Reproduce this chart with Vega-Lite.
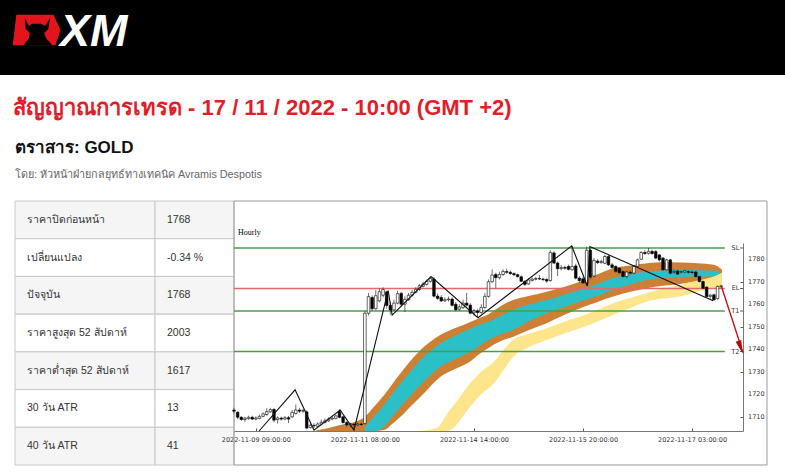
{
  "$schema": "https://vega.github.io/schema/vega-lite/v6.json",
  "padding": 0,
  "background": "white",
  "spacing": 0,
  "bounds": "flush",
  "config": {
    "view": {"stroke": null},
    "font": "Liberation Sans",
    "axis": {"labelOverlap": false, "grid": false, "title": null, "labelFont": "DejaVu Sans", "labelFontSize": 6.5, "labelColor": "#333333", "tickColor": "#555555", "domainColor": "#777777", "tickSize": -3}
  },
  "datasets": {
    "table": [
      {"row": 1, "label": "ราคาปิดก่อนหน้า", "value": "1768"},
      {"row": 2, "label": "เปลี่ยนแปลง", "value": "-0.34 %"},
      {"row": 3, "label": "ปัจจุบัน", "value": "1768"},
      {"row": 4, "label": "ราคาสูงสุด 52 สัปดาห์", "value": "2003"},
      {"row": 5, "label": "ราคาต่ำสุด 52 สัปดาห์", "value": "1617"},
      {"row": 6, "label": "30 วัน ATR", "value": "13"},
      {"row": 7, "label": "40 วัน ATR", "value": "41"}
    ],
    "yticks": [{"v":1710},{"v":1720},{"v":1730},{"v":1740},{"v":1750},{"v":1760},{"v":1770},{"v":1780}],
    "candles": [
      {"i":-6,"o":1713,"h":1714,"l":1711.5,"c":1712.5},{"i":-5,"o":1712,"h":1712.5,"l":1709,"c":1709.8},{"i":-4,"o":1709.8,"h":1710.3,"l":1708.3,"c":1708.8},{"i":-3,"o":1708.8,"h":1710,"l":1707.8,"c":1709.4},{"i":-2,"o":1709.2,"h":1710.5,"l":1708.7,"c":1709.8},{"i":-1,"o":1709.8,"h":1710.5,"l":1708.6,"c":1709},{"i":0,"o":1709,"h":1710.2,"l":1708.5,"c":1709.5},{"i":1,"o":1709.3,"h":1711,"l":1708.9,"c":1710.2},{"i":2,"o":1710.2,"h":1712,"l":1709.8,"c":1711.3},{"i":3,"o":1711,"h":1713.8,"l":1710.5,"c":1712.3},{"i":4,"o":1712.2,"h":1714,"l":1711.8,"c":1713.2},{"i":5,"o":1713.3,"h":1713.8,"l":1707.5,"c":1708.5},{"i":6,"o":1708.8,"h":1710.2,"l":1707,"c":1709.5},{"i":7,"o":1709.4,"h":1710,"l":1708.3,"c":1709},{"i":8,"o":1709,"h":1710.3,"l":1708.5,"c":1709.6},{"i":9,"o":1709.6,"h":1710.4,"l":1707.2,"c":1709},{"i":10,"o":1710,"h":1713,"l":1709.5,"c":1712},{"i":11,"o":1711.5,"h":1715.5,"l":1711,"c":1713},{"i":12,"o":1713,"h":1714,"l":1711.7,"c":1712.5},{"i":13,"o":1712.5,"h":1713.5,"l":1711.8,"c":1712.8},{"i":14,"o":1712.2,"h":1712.8,"l":1704.5,"c":1705},{"i":15,"o":1705.2,"h":1707,"l":1704.8,"c":1706.2},{"i":16,"o":1706.2,"h":1707.2,"l":1705,"c":1706},{"i":17,"o":1705.8,"h":1707.5,"l":1705.3,"c":1706.8},{"i":18,"o":1706.8,"h":1708.8,"l":1706.3,"c":1707.6},{"i":19,"o":1707.5,"h":1709.3,"l":1707,"c":1708.2},{"i":20,"o":1708.2,"h":1709.8,"l":1707.7,"c":1709},{"i":21,"o":1709,"h":1710.2,"l":1708.5,"c":1709.4},{"i":22,"o":1709.3,"h":1711,"l":1708.8,"c":1710.4},{"i":23,"o":1712.4,"h":1713.3,"l":1709.3,"c":1709.8},{"i":24,"o":1710,"h":1710.5,"l":1707,"c":1707.5},{"i":25,"o":1707.5,"h":1708,"l":1705.7,"c":1706.4},{"i":26,"o":1706.5,"h":1707.5,"l":1705.2,"c":1706.9},{"i":27,"o":1706.7,"h":1707.2,"l":1704.2,"c":1706.4},{"i":28,"o":1706.4,"h":1707.3,"l":1705.8,"c":1706.8},{"i":29,"o":1706.8,"h":1707.4,"l":1706,"c":1706.6},
      {"i":30,"o":1707,"h":1757,"l":1706.5,"c":1756},{"i":31,"o":1756,"h":1765,"l":1755,"c":1763.4},{"i":32,"o":1763,"h":1764,"l":1757,"c":1758},{"i":33,"o":1758,"h":1766.3,"l":1757.5,"c":1763.8},{"i":34,"o":1761.5,"h":1767,"l":1760.8,"c":1765.6},{"i":35,"o":1764,"h":1767.5,"l":1763,"c":1766.5},{"i":36,"o":1765.5,"h":1766,"l":1758,"c":1759.5},{"i":37,"o":1759.5,"h":1761,"l":1755.3,"c":1757.5},{"i":38,"o":1757.5,"h":1762,"l":1757,"c":1760.5},{"i":39,"o":1760.5,"h":1766,"l":1760,"c":1764.7},{"i":40,"o":1764.8,"h":1765.5,"l":1759,"c":1760},{"i":41,"o":1760,"h":1763.5,"l":1756.5,"c":1762.2},{"i":42,"o":1762,"h":1765,"l":1761.5,"c":1764},{"i":43,"o":1764,"h":1766.3,"l":1763.3,"c":1765.3},{"i":44,"o":1765.3,"h":1767.6,"l":1764.8,"c":1766.6},{"i":45,"o":1766.6,"h":1769,"l":1766,"c":1768.2},{"i":46,"o":1768,"h":1770,"l":1767.5,"c":1769},{"i":47,"o":1768.8,"h":1771,"l":1768.2,"c":1770.2},{"i":48,"o":1770.2,"h":1772.3,"l":1769.5,"c":1771.5},{"i":49,"o":1771.2,"h":1772,"l":1763,"c":1763.6},{"i":50,"o":1763.6,"h":1764.8,"l":1762,"c":1762.6},{"i":51,"o":1763,"h":1764,"l":1761,"c":1761.5},{"i":52,"o":1761.5,"h":1763,"l":1761,"c":1762},{"i":53,"o":1762,"h":1763.4,"l":1761.2,"c":1762.3},{"i":54,"o":1762.3,"h":1763,"l":1759,"c":1759.5},{"i":55,"o":1760,"h":1761,"l":1757,"c":1757.5},{"i":56,"o":1757.8,"h":1760,"l":1757,"c":1758.8},{"i":57,"o":1758.5,"h":1762,"l":1758,"c":1760.5},{"i":58,"o":1760.5,"h":1765,"l":1759,"c":1759.6},{"i":59,"o":1759.6,"h":1760.5,"l":1755.5,"c":1756},{"i":60,"o":1756.2,"h":1758,"l":1755,"c":1757},{"i":61,"o":1757,"h":1757.8,"l":1754,"c":1756.3},{"i":62,"o":1756.3,"h":1760,"l":1755.8,"c":1758.5},{"i":63,"o":1758.5,"h":1765,"l":1758,"c":1763.5},{"i":64,"o":1763.5,"h":1771,"l":1763,"c":1770},{"i":65,"o":1770,"h":1775.5,"l":1769.5,"c":1773},{"i":66,"o":1773.2,"h":1774,"l":1767,"c":1771.8},{"i":67,"o":1771.8,"h":1774.5,"l":1771,"c":1773.2},{"i":68,"o":1773.2,"h":1775.5,"l":1772.6,"c":1774.6},{"i":69,"o":1774.5,"h":1775.8,"l":1773.5,"c":1774.2},{"i":70,"o":1774.2,"h":1775,"l":1773,"c":1773.6},
      {"i":71,"o":1773.6,"h":1774.2,"l":1772.6,"c":1773.1},{"i":72,"o":1773.1,"h":1773.6,"l":1771.8,"c":1772.3},{"i":73,"o":1772.2,"h":1772.8,"l":1769.8,"c":1770.2},{"i":74,"o":1770.2,"h":1770.6,"l":1768,"c":1768.8},{"i":75,"o":1769,"h":1771.5,"l":1768.6,"c":1770.8},{"i":76,"o":1770.6,"h":1771.9,"l":1770,"c":1771.2},{"i":77,"o":1771.1,"h":1772.2,"l":1770.6,"c":1771.4},{"i":78,"o":1771.4,"h":1773,"l":1770.8,"c":1771.2},{"i":79,"o":1771.2,"h":1771.8,"l":1770.3,"c":1771},{"i":80,"o":1771,"h":1771.5,"l":1769.5,"c":1770.3},{"i":81,"o":1770.5,"h":1784,"l":1770,"c":1783},{"i":82,"o":1782.8,"h":1783.5,"l":1777.8,"c":1778.3},{"i":83,"o":1778.3,"h":1779,"l":1772.5,"c":1775.8},{"i":84,"o":1775.8,"h":1777.5,"l":1775,"c":1776.3},{"i":85,"o":1776.3,"h":1777.2,"l":1775.3,"c":1776},{"i":86,"o":1776.8,"h":1777.6,"l":1775,"c":1775.5},{"i":87,"o":1775.3,"h":1785.8,"l":1774.8,"c":1776.8},{"i":88,"o":1777,"h":1778,"l":1771,"c":1771.6},{"i":89,"o":1771.6,"h":1772.5,"l":1769.5,"c":1770.5},{"i":90,"o":1771.3,"h":1772.3,"l":1769,"c":1769.5},{"i":91,"o":1769,"h":1785.6,"l":1768.1,"c":1784},{"i":92,"o":1784,"h":1784.5,"l":1771,"c":1772},{"i":93,"o":1772.5,"h":1780.5,"l":1772,"c":1779.5},{"i":94,"o":1779.2,"h":1780,"l":1777.8,"c":1778.5},{"i":95,"o":1778.5,"h":1779.8,"l":1778,"c":1779},{"i":96,"o":1778.2,"h":1782,"l":1777.8,"c":1781.2},{"i":97,"o":1781.2,"h":1782,"l":1777,"c":1777.5},{"i":98,"o":1777.5,"h":1778.3,"l":1775.8,"c":1776.3},{"i":99,"o":1776.8,"h":1777.3,"l":1774,"c":1774.6},{"i":100,"o":1776,"h":1776.5,"l":1773.3,"c":1774},{"i":101,"o":1774.5,"h":1775,"l":1771.8,"c":1772.3},{"i":102,"o":1772.3,"h":1774.8,"l":1771.5,"c":1774.3},{"i":103,"o":1774.2,"h":1775,"l":1773.2,"c":1773.8},{"i":104,"o":1773.8,"h":1777.3,"l":1773.4,"c":1776.8},{"i":105,"o":1776.8,"h":1780.3,"l":1776.3,"c":1779.7},{"i":106,"o":1780,"h":1783.6,"l":1779.8,"c":1783},{"i":107,"o":1783,"h":1784,"l":1782,"c":1782.5},{"i":108,"o":1782.6,"h":1785,"l":1782,"c":1783.5},{"i":109,"o":1783.5,"h":1784.2,"l":1782,"c":1782.5},{"i":110,"o":1783.4,"h":1784,"l":1780,"c":1780.5},{"i":111,"o":1781.9,"h":1782.3,"l":1779,"c":1779.7},{"i":112,"o":1780.5,"h":1781,"l":1774.8,"c":1775.3},{"i":113,"o":1775.3,"h":1780.2,"l":1775,"c":1779.7},{"i":114,"o":1779.7,"h":1780.2,"l":1773.3,"c":1773.8},{"i":115,"o":1774.2,"h":1775.5,"l":1773.5,"c":1774.6},{"i":116,"o":1774.8,"h":1775.3,"l":1773,"c":1773.4},{"i":117,"o":1774.2,"h":1775,"l":1773.6,"c":1774.5},{"i":118,"o":1774.3,"h":1775.4,"l":1773.8,"c":1774.9},{"i":119,"o":1774.5,"h":1775,"l":1773.6,"c":1774.2},{"i":120,"o":1774.3,"h":1775,"l":1773.5,"c":1774.1},{"i":121,"o":1774.3,"h":1774.8,"l":1771.9,"c":1772.3},{"i":122,"o":1772.3,"h":1772.6,"l":1769.6,"c":1770.1},{"i":123,"o":1770.1,"h":1770.5,"l":1766.6,"c":1767.1},{"i":124,"o":1767.6,"h":1768,"l":1763,"c":1763.4},{"i":125,"o":1763.5,"h":1764.6,"l":1762.5,"c":1764},{"i":126,"o":1764.2,"h":1764.7,"l":1761.6,"c":1762},{"i":127,"o":1762.5,"h":1768.3,"l":1762,"c":1767.9},{"i":128,"o":1767.8,"h":1768.6,"l":1767.2,"c":1768.2}
    ],
    "brown": [
      {"i":16.6,"hi":1704.0,"lo":1703.7},{"i":20,"hi":1705.0,"lo":1703.7},{"i":23.2,"hi":1706.4,"lo":1703.7},{"i":27,"hi":1707.6,"lo":1703.7},{"i":29.8,"hi":1709.8,"lo":1703.7},{"i":32.5,"hi":1714.5,"lo":1703.7},{"i":35.3,"hi":1719.7,"lo":1704.1},{"i":37.5,"hi":1724.5,"lo":1706.8},{"i":39.8,"hi":1729.3,"lo":1710},{"i":42.5,"hi":1734.8,"lo":1714.5},{"i":45.3,"hi":1739.7,"lo":1718.9},{"i":48,"hi":1743.3,"lo":1723.5},{"i":50.8,"hi":1746.4,"lo":1727.8},{"i":54.5,"hi":1749.2,"lo":1731},{"i":58.2,"hi":1751.6,"lo":1733.8},{"i":62,"hi":1754.2,"lo":1738.5},{"i":64,"hi":1755.6,"lo":1740.6},{"i":67,"hi":1758.8,"lo":1743.3},{"i":70.8,"hi":1761.9,"lo":1745.6},{"i":75,"hi":1763.7,"lo":1748.5},{"i":80,"hi":1765.6,"lo":1751.6},{"i":84.5,"hi":1767.6,"lo":1755},{"i":89.2,"hi":1770,"lo":1758.2},{"i":94,"hi":1773.3,"lo":1761},{"i":98.3,"hi":1776,"lo":1763.4},{"i":103,"hi":1777.2,"lo":1765.5},{"i":107.5,"hi":1778.2,"lo":1767.1},{"i":112,"hi":1778.6,"lo":1768.2},{"i":116.7,"hi":1778.5,"lo":1769},{"i":121.5,"hi":1778.2,"lo":1770.2},{"i":126,"hi":1777.5,"lo":1770.8},{"i":128.2,"hi":1775.4,"lo":1770.8}
    ],
    "teal": [
      {"i":30,"hi":1705.5,"lo":1703.7},{"i":32.5,"hi":1710,"lo":1703.7},{"i":35.3,"hi":1715.2,"lo":1705.6},{"i":37.5,"hi":1720,"lo":1710},{"i":39.8,"hi":1724.9,"lo":1714.5},{"i":42.5,"hi":1730,"lo":1719.3},{"i":45.3,"hi":1735.2,"lo":1724.1},{"i":48,"hi":1739.2,"lo":1728.3},{"i":50.8,"hi":1742.7,"lo":1732.3},{"i":54.5,"hi":1745.8,"lo":1735.3},{"i":58.2,"hi":1748.6,"lo":1738.2},{"i":62,"hi":1751.2,"lo":1742},{"i":64,"hi":1752.2,"lo":1744.1},{"i":67,"hi":1754.5,"lo":1746.5},{"i":70.8,"hi":1757.5,"lo":1748.6},{"i":75,"hi":1759.8,"lo":1752.3},{"i":80,"hi":1761.9,"lo":1756},{"i":84.5,"hi":1764,"lo":1758.5},{"i":89.2,"hi":1766.4,"lo":1761.2},{"i":94,"hi":1769,"lo":1763.8},{"i":98.3,"hi":1771.6,"lo":1766.4},{"i":103,"hi":1773.3,"lo":1768.8},{"i":107.5,"hi":1774.5,"lo":1770.8},{"i":112,"hi":1775,"lo":1771.6},{"i":116.7,"hi":1775.2,"lo":1772.1},{"i":121.5,"hi":1775.1,"lo":1772.3},{"i":126,"hi":1774.9,"lo":1772.3},{"i":128.2,"hi":1773.5,"lo":1771.7}
    ],
    "yellow": [
      {"i":45.2,"hi":1703.7,"lo":1703.7},{"i":49.8,"hi":1705,"lo":1703.7},{"i":52.7,"hi":1711.6,"lo":1703.7},{"i":55.5,"hi":1717.5,"lo":1707},{"i":58.2,"hi":1723.4,"lo":1713},{"i":62,"hi":1730,"lo":1720},{"i":65.5,"hi":1734.5,"lo":1724.9},{"i":68,"hi":1739.5,"lo":1730.5},{"i":70.8,"hi":1744.1,"lo":1736.7},{"i":75,"hi":1746.8,"lo":1740.8},{"i":80,"hi":1749.3,"lo":1744.1},{"i":84.5,"hi":1752,"lo":1746.8},{"i":89.2,"hi":1754.5,"lo":1749.3},{"i":94,"hi":1757.5,"lo":1752.3},{"i":98.3,"hi":1760.4,"lo":1755.2},{"i":103,"hi":1762.8,"lo":1758.3},{"i":107.5,"hi":1764.9,"lo":1761.2},{"i":112,"hi":1767,"lo":1762.5},{"i":116.7,"hi":1768.6,"lo":1763.4},{"i":121.5,"hi":1770.5,"lo":1765.5},{"i":126,"hi":1772.3,"lo":1767.1},{"i":128.2,"hi":1774,"lo":1767.2}
    ],
    "zigzag": [
      {"i":0.9,"p":1703.7},{"i":10.8,"p":1722},{"i":16,"p":1704.1},{"i":23.2,"p":1713},{"i":27,"p":1704.1},{"i":36.4,"p":1766.1},{"i":37.5,"p":1755.2},{"i":48.2,"p":1772.3},{"i":61.1,"p":1754},{"i":86.9,"p":1785.9},{"i":91.2,"p":1768.1},{"i":91.9,"p":1785.6},{"i":125.8,"p":1761.6}
    ],
    "levels": [
      {"name":"SL","level":1785},{"name":"EL","level":1767},{"name":"T1","level":1757},{"name":"T2","level":1739}
    ],
    "arrow": [
      {"i":128.1,"p":1767.8},{"i":134,"p":1738.5}
    ]
  },
  "vconcat": [
    {
      "width": 785, "height": 75,
      "view": {"fill": "#000000", "stroke": null},
      "data": {"values": [{"brand": "XM"}]},
      "layer": [
        {"mark": {"type": "point", "filled": true, "shape": "M-0.84,-0.64L0.71,-0.64L1,0L0.79,0.64L-0.99,0.64Z", "size": 2304, "color": "#e3141b", "opacity": 1, "strokeWidth": 0},
         "encoding": {"x": {"datum": 36.5, "type": "quantitative", "scale": {"domain": [0, 785]}, "axis": null}, "y": {"datum": 30, "type": "quantitative", "scale": {"domain": [0, 75], "reverse": true}, "axis": null}}},
        {"mark": {"type": "point", "filled": true, "shape": "M-0.49,-0.51L-0.32,-0.17L-0.19,-0.26L0.19,-0.26L0.36,-0.17L0.57,-0.51L0.49,-0.04L0.32,0.13L0.40,0.34L0.66,0.64L-0.53,0.64L-0.32,0.34L-0.28,0.13L-0.45,-0.04Z", "size": 2304, "color": "#000000", "opacity": 1, "strokeWidth": 0},
         "encoding": {"x": {"datum": 36.5, "type": "quantitative", "scale": {"domain": [0, 785]}, "axis": null}, "y": {"datum": 30, "type": "quantitative", "scale": {"domain": [0, 75], "reverse": true}, "axis": null}}},
        {"mark": {"type": "text", "align": "left", "baseline": "alphabetic", "fontSize": 45, "fontWeight": "bold", "fontStyle": "italic", "font": "Liberation Sans", "color": "#ffffff"},
         "encoding": {"text": {"field": "brand"}, "x": {"datum": 60, "type": "quantitative", "scale": {"domain": [0, 785]}, "axis": null}, "y": {"datum": 46, "type": "quantitative", "scale": {"domain": [0, 75], "reverse": true}, "axis": null}}}
      ]
    },
    {
      "width": 785, "height": 126,
      "layer": [
        {"data": {"values": [{"t": "สัญญาณการเทรด - 17 / 11 / 2022 - 10:00 (GMT +2)"}]},
         "mark": {"type": "text", "align": "left", "baseline": "alphabetic", "fontSize": 22, "fontWeight": "bold", "color": "#e11d2a"},
         "encoding": {"text": {"field": "t"}, "x": {"datum": 13, "type": "quantitative", "scale": {"domain": [0, 785]}, "axis": null}, "y": {"datum": 40, "type": "quantitative", "scale": {"domain": [0, 126], "reverse": true}, "axis": null}}},
        {"data": {"values": [{"t": "ตราสาร: GOLD"}]},
         "mark": {"type": "text", "align": "left", "baseline": "alphabetic", "fontSize": 17, "fontWeight": "bold", "color": "#111111"},
         "encoding": {"text": {"field": "t"}, "x": {"datum": 15, "type": "quantitative", "scale": {"domain": [0, 785]}, "axis": null}, "y": {"datum": 78, "type": "quantitative", "scale": {"domain": [0, 126], "reverse": true}, "axis": null}}},
        {"data": {"values": [{"t": "โดย: หัวหน้าฝ่ายกลยุทธ์ทางเทคนิค Avramis Despotis"}]},
         "mark": {"type": "text", "align": "left", "baseline": "alphabetic", "fontSize": 10.8, "color": "#666666"},
         "encoding": {"text": {"field": "t"}, "x": {"datum": 15, "type": "quantitative", "scale": {"domain": [0, 785]}, "axis": null}, "y": {"datum": 102.5, "type": "quantitative", "scale": {"domain": [0, 126], "reverse": true}, "axis": null}}}
      ]
    },
    {
      "spacing": 0,
      "bounds": "flush",
      "hconcat": [
        {"width": 15, "height": 264, "data": {"values": [{}]}, "mark": {"type": "point", "opacity": 0}},
        {
          "width": 140, "height": 264,
          "data": {"name": "table"},
          "encoding": {"y": {"field": "row", "type": "ordinal", "axis": null, "scale": {"paddingInner": 0, "paddingOuter": 0}}},
          "layer": [
            {"mark": {"type": "rect", "stroke": "#c8c8c8", "strokeWidth": 1},
             "encoding": {"fill": {"condition": {"test": "datum.row % 2 == 1", "value": "#f5f5f5"}, "value": "#ffffff"}}},
            {"mark": {"type": "text", "align": "left", "baseline": "middle", "fontSize": 10.5, "color": "#333333"},
             "encoding": {"text": {"field": "label"}, "x": {"value": 12}}}
          ]
        },
        {
          "width": 79, "height": 264,
          "data": {"name": "table"},
          "encoding": {"y": {"field": "row", "type": "ordinal", "axis": null, "scale": {"paddingInner": 0, "paddingOuter": 0}}},
          "layer": [
            {"mark": {"type": "rect", "stroke": "#c8c8c8", "strokeWidth": 1},
             "encoding": {"fill": {"condition": {"test": "datum.row % 2 == 1", "value": "#f5f5f5"}, "value": "#ffffff"}}},
            {"mark": {"type": "text", "align": "left", "baseline": "middle", "fontSize": 10.5, "color": "#333333"},
             "encoding": {"text": {"field": "value"}, "x": {"value": 12}}}
          ]
        },
        {
          "spacing": 0,
          "bounds": "flush",
          "vconcat": [
            {"width": 509, "height": 42, "data": {"values": [{}]}, "mark": {"type": "point", "opacity": 0}},
            {
              "width": 509, "height": 188,
              "layer": [
                {"data": {"values": [{}]},
                 "mark": {"type": "rect", "fill": null, "fillOpacity": 0, "stroke": "#9a9a9a", "strokeWidth": 1},
                 "encoding": {
                   "x": {"datum": -6, "type": "quantitative", "scale": {"domain": [-6, 134], "nice": false, "zero": false, "padding": 0},
                         "axis": {"orient": "bottom", "values": [0, 30, 60, 90, 120], "labelExpr": "['2022-11-09 09:00:00','2022-11-11 08:00:00','2022-11-14 14:00:00','2022-11-15 20:00:00','2022-11-17 03:00:00'][round(datum.value/30)]", "domain": true, "domainColor": "#777777", "domainWidth": 1, "grid": false, "ticks": true, "tickSize": -3, "tickColor": "#555555", "labelFont": "DejaVu Sans", "labelFontSize": 6.5, "labelColor": "#333333", "labelPadding": 8.5, "labelOverlap": false, "title": null}},
                   "x2": {"datum": 140.6},
                   "y": {"datum": 1805.85, "type": "quantitative", "scale": {"domain": [1703.7, 1787.2], "nice": false, "zero": false, "padding": 0},
                         "axis": {"orient": "right", "values": [1710, 1720, 1730, 1740, 1750, 1760, 1770, 1780], "labels": false, "domain": true, "domainColor": "#777777", "domainWidth": 1, "grid": false, "ticks": true, "tickSize": -3, "tickColor": "#555555", "title": null}},
                   "y2": {"datum": 1688.6}
                 }},
                {"data": {"name": "brown"},
                 "mark": {"type": "area", "color": "#cd8034", "interpolate": "monotone", "opacity": 1},
                 "encoding": {
                   "x": {"field": "i", "type": "quantitative", "scale": {"domain": [-6, 134], "nice": false, "zero": false, "padding": 0}},
                   "y": {"field": "hi", "type": "quantitative", "scale": {"domain": [1703.7, 1787.2], "nice": false, "zero": false, "padding": 0}},
                   "y2": {"field": "lo"}
                 }},
                {"data": {"name": "teal"},
                 "mark": {"type": "area", "color": "#2bbfc8", "interpolate": "monotone", "opacity": 1},
                 "encoding": {
                   "x": {"field": "i", "type": "quantitative", "scale": {"domain": [-6, 134], "nice": false, "zero": false, "padding": 0}},
                   "y": {"field": "hi", "type": "quantitative", "scale": {"domain": [1703.7, 1787.2], "nice": false, "zero": false, "padding": 0}},
                   "y2": {"field": "lo"}
                 }},
                {"data": {"name": "yellow"},
                 "mark": {"type": "area", "color": "#fce58b", "interpolate": "monotone", "opacity": 1},
                 "encoding": {
                   "x": {"field": "i", "type": "quantitative", "scale": {"domain": [-6, 134], "nice": false, "zero": false, "padding": 0}},
                   "y": {"field": "hi", "type": "quantitative", "scale": {"domain": [1703.7, 1787.2], "nice": false, "zero": false, "padding": 0}},
                   "y2": {"field": "lo"}
                 }},
                {"data": {"name": "levels"},
                 "mark": {"type": "rule", "strokeWidth": 1.5},
                 "encoding": {
                   "x": {"datum": -6, "type": "quantitative", "scale": {"domain": [-6, 134], "nice": false, "zero": false, "padding": 0}},
                   "x2": {"datum": 129},
                   "y": {"field": "level", "type": "quantitative", "scale": {"domain": [1703.7, 1787.2], "nice": false, "zero": false, "padding": 0}},
                   "color": {"field": "name", "type": "nominal", "legend": null, "scale": {"domain": ["SL", "EL", "T1", "T2"], "range": ["#47a047", "#e36a6a", "#47a047", "#47a047"]}}
                 }},
                {"data": {"name": "levels"},
                 "mark": {"type": "rule", "strokeWidth": 1, "color": "#555555"},
                 "encoding": {
                   "x": {"datum": 133.2, "type": "quantitative", "scale": {"domain": [-6, 134], "nice": false, "zero": false, "padding": 0}},
                   "x2": {"datum": 134},
                   "y": {"field": "level", "type": "quantitative", "scale": {"domain": [1703.7, 1787.2], "nice": false, "zero": false, "padding": 0}}
                 }},
                {"data": {"name": "levels"},
                 "mark": {"type": "text", "align": "right", "baseline": "middle", "font": "DejaVu Sans", "fontSize": 6.5, "color": "#333333"},
                 "encoding": {
                   "text": {"field": "name"},
                   "x": {"datum": 133, "type": "quantitative", "scale": {"domain": [-6, 134], "nice": false, "zero": false, "padding": 0}},
                   "y": {"field": "level", "type": "quantitative", "scale": {"domain": [1703.7, 1787.2], "nice": false, "zero": false, "padding": 0}}
                 }},
                {"data": {"name": "yticks"},
                 "mark": {"type": "text", "align": "left", "baseline": "middle", "font": "DejaVu Sans", "fontSize": 6.5, "color": "#333333"},
                 "encoding": {
                   "text": {"field": "v", "type": "quantitative", "format": "d"},
                   "x": {"datum": 135.4, "type": "quantitative", "scale": {"domain": [-6, 134], "nice": false, "zero": false, "padding": 0}},
                   "y": {"field": "v", "type": "quantitative", "scale": {"domain": [1703.7, 1787.2], "nice": false, "zero": false, "padding": 0}}
                 }},
                {"data": {"name": "candles"},
                 "mark": {"type": "rule", "color": "#333333", "strokeWidth": 0.7},
                 "encoding": {
                   "x": {"field": "i", "type": "quantitative", "scale": {"domain": [-6, 134], "nice": false, "zero": false, "padding": 0}},
                   "y": {"field": "l", "type": "quantitative", "scale": {"domain": [1703.7, 1787.2], "nice": false, "zero": false, "padding": 0}},
                   "y2": {"field": "h"}
                 }},
                {"data": {"name": "candles"},
                 "mark": {"type": "bar", "size": 2.6, "stroke": "#000000", "strokeWidth": 0.6},
                 "encoding": {
                   "x": {"field": "i", "type": "quantitative", "scale": {"domain": [-6, 134], "nice": false, "zero": false, "padding": 0}},
                   "y": {"field": "o", "type": "quantitative", "scale": {"domain": [1703.7, 1787.2], "nice": false, "zero": false, "padding": 0}},
                   "y2": {"field": "c"},
                   "fill": {"condition": {"test": "datum.c >= datum.o", "value": "#ffffff"}, "value": "#000000"}
                 }},
                {"data": {"name": "zigzag"},
                 "mark": {"type": "line", "color": "#111111", "strokeWidth": 1.1},
                 "encoding": {
                   "x": {"field": "i", "type": "quantitative", "scale": {"domain": [-6, 134], "nice": false, "zero": false, "padding": 0}},
                   "y": {"field": "p", "type": "quantitative", "scale": {"domain": [1703.7, 1787.2], "nice": false, "zero": false, "padding": 0}}
                 }},
                {"data": {"name": "arrow"},
                 "mark": {"type": "line", "color": "#c81010", "strokeWidth": 1.4},
                 "encoding": {
                   "x": {"field": "i", "type": "quantitative", "scale": {"domain": [-6, 134], "nice": false, "zero": false, "padding": 0}},
                   "y": {"field": "p", "type": "quantitative", "scale": {"domain": [1703.7, 1787.2], "nice": false, "zero": false, "padding": 0}}
                 }},
                {"data": {"values": [{}]},
                 "mark": {"type": "point", "filled": true, "shape": "M-0.45,-1L0.45,-1L0,1Z", "size": 169, "angle": -18, "color": "#c00000", "opacity": 1, "strokeWidth": 0},
                 "encoding": {
                   "x": {"datum": 133.3, "type": "quantitative", "scale": {"domain": [-6, 134], "nice": false, "zero": false, "padding": 0}},
                   "y": {"datum": 1741, "type": "quantitative", "scale": {"domain": [1703.7, 1787.2], "nice": false, "zero": false, "padding": 0}}
                 }},
                {"data": {"values": [{"t": "Hourly"}]},
                 "mark": {"type": "text", "align": "left", "baseline": "middle", "font": "Liberation Serif", "fontSize": 8, "color": "#000000"},
                 "encoding": {
                   "text": {"field": "t"},
                   "x": {"datum": -4.9, "type": "quantitative", "scale": {"domain": [-6, 134], "nice": false, "zero": false, "padding": 0}},
                   "y": {"datum": 1791.7, "type": "quantitative", "scale": {"domain": [1703.7, 1787.2], "nice": false, "zero": false, "padding": 0}}
                 }}
              ]
            }
          ]
        }
      ]
    }
  ]
}
